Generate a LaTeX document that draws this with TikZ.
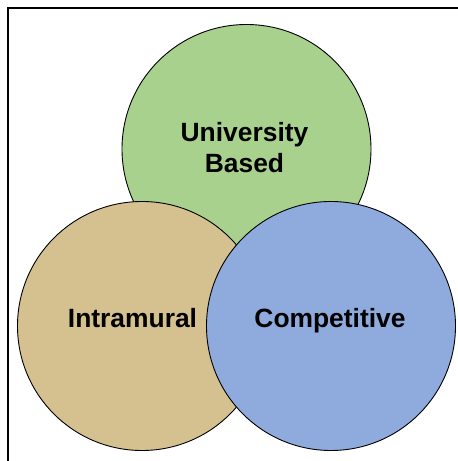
\documentclass[tikz,border=0pt]{standalone}
\usepackage{fontspec}
\setmainfont{Liberation Sans}
\definecolor{cgreen}{HTML}{A9D18E}
\definecolor{ctan}{HTML}{D5C18F}
\definecolor{cblue}{HTML}{8FAADC}
\tikzset{
  venn/.style={circle, draw=black, line width=0.9pt, inner sep=0pt, minimum size=249pt},
  lbl/.style={font=\fontsize{26.4}{31.5}\selectfont\bfseries, align=center, inner sep=0pt, anchor=base},
  frame/.style={line width=2pt, draw=black}
}
\begin{document}
\begin{tikzpicture}[x=1pt,y=1pt]
\useasboundingbox (0,0) rectangle (458,461);
\draw[frame] (7.5,0) |- (458,452.5);
\node[venn, fill=cgreen] (univ) at (246.5,312) {};
\node[venn, fill=ctan] (intra) at (142,135) {};
\node[venn, fill=cblue] (comp) at (331,135) {};
\node[lbl] (tuniv) at (244.5,288) {University\\Based};
\node[lbl] (tintra) at (132.5,133) {Intramural};
\node[lbl] (tcomp) at (330,133) {Competitive};
\end{tikzpicture}
\end{document}
